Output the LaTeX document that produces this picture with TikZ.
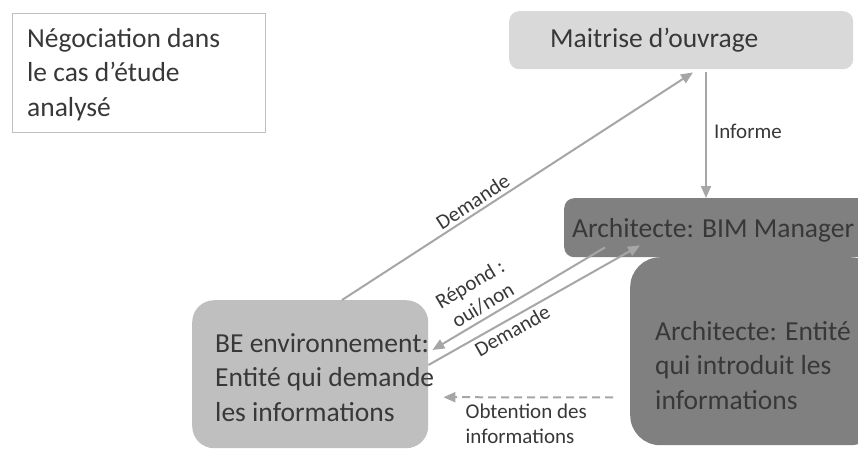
\documentclass[tikz,border=0pt]{standalone}
\usepackage{fontspec}
\setmainfont{Carlito}
\usetikzlibrary{arrows.meta}

\definecolor{maitrise}{HTML}{D9D9D9}
\definecolor{archi}{HTML}{808080}
\definecolor{beenv}{HTML}{BFBFBF}

\begin{document}
\begin{tikzpicture}[x=1pt, y=-1pt]
	\useasboundingbox (0,0) rectangle (858,450);
	\clip (0,0) rectangle (858,450);
	\tikzstyle{comp} = [
		rectangle, draw=none, inner sep=0pt, anchor=north west
	]
	\tikzstyle{caption} = [
		anchor=base west, inner sep=0pt, align=left, text=black!78,
		font=\fontsize{27.5}{34.5}\selectfont
	]
	\tikzstyle{remark} = [
		inner sep=3pt, text=black!78, font=\fontsize{21}{25}\selectfont
	]
	\tikzstyle{conn} = [
		draw=black!35, line width=2pt, -{Triangle[length=12pt, width=10pt]}
	]

	% Titre
	\node (Title) [comp, draw=black!25, line width=1.2pt, minimum width=253pt, minimum height=119pt] at (12,13) {}
		% Caption (base = last line)
		node (Title_txt) [caption] at ([shift={(15,103)}]Title.north west) {Négociation dans\\le cas d’étude\\analysé}
	;

	% Maitrise d'ouvrage
	\node (Maitrise) [comp, fill=maitrise, rounded corners=10pt, minimum width=344pt, minimum height=58pt] at (509,11) {}
		% Caption
		node (Maitrise_txt) [caption] at ([shift={(41,36)}]Maitrise.north west) {Maitrise d’ouvrage}
	;

	% Architecte: entite
	\node (Entite) [comp, fill=archi, rounded corners=30pt, minimum width=250pt, minimum height=188pt] at (630,257) {}
		% Caption (base = last line)
		node (Entite_txt) [caption] at ([shift={(25,152)}]Entite.north west) {Architecte: Entité\\qui introduit les\\informations}
	;

	% Architecte: BIM Manager
	\node (BIM) [comp, fill=archi, rounded corners=10pt, minimum width=320pt, minimum height=59pt] at (564,198) {}
		% Caption
		node (BIM_txt) [caption] at ([shift={(8,39)}]BIM.north west) {Architecte: BIM Manager}
	;

	% BE environnement
	\node (BE) [comp, fill=beenv, rounded corners=22pt, minimum width=236pt, minimum height=148pt] at (192,300) {}
		% Caption (base = last line)
		node (BE_txt) [caption] at ([shift={(23,121)}]BE.north west) {BE environnement:\\Entité qui demande\\les informations}
	;

	% BE -> Maitrise
	\draw[conn] ([xshift=150pt]BE.north west) -- node (dem1) [remark, pos=0.39, above, sloped] {Demande} ([shift={(184,3)}]Maitrise.south west);
	% Maitrise -> BIM
	\draw[conn] ([shift={(197,3)}]Maitrise.south west) -- node (inf) [remark, pos=0.47, right, xshift=4pt] {Informe} ([xshift=142pt]BIM.north west);
	% BIM <-> BE
	\draw[conn] ([shift={(41,-10)}]BIM.south west) -- node (rep) [remark, inner sep=4pt, pos=0.67, above, sloped, align=center] {Répond :\\oui/non} ([shift={(4,50)}]BE.north east);
	\draw[conn] ([shift={(0,65)}]BE.north east) -- node (dem2) [remark, pos=0.37, below, sloped] {Demande} ([shift={(76,-12)}]BIM.south west);
	% Entite -> BE
	\draw[conn, dash pattern=on 8pt off 5pt] ([shift={(-17,-48)}]Entite.south west) -- ([shift={(15,23)}]BE.east);
	\node (obt) [remark, inner sep=0pt, anchor=base west, align=left] at ([shift={(37,69)}]BE.east) {Obtention des\\informations};

\end{tikzpicture}
\end{document}
